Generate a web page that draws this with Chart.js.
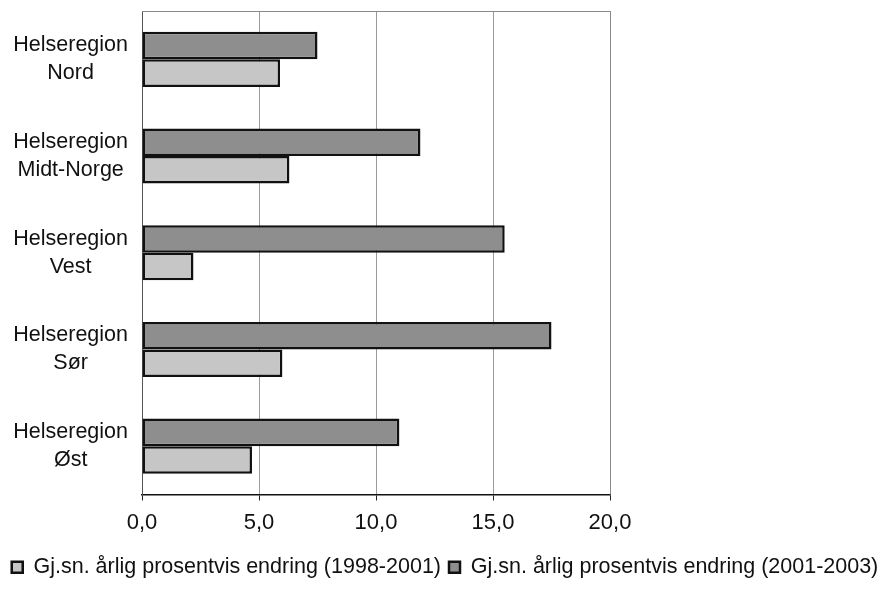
<!DOCTYPE html>
<html>
<head>
<meta charset="utf-8">
<script src="https://cdn.jsdelivr.net/npm/chart.js@4/dist/chart.umd.min.js"></script>
<style>
  html, body { margin: 0; padding: 0; background: #fff; }
  #wrap { width: 890px; height: 602px; }
</style>
</head>
<body>
<div id="wrap"><canvas id="helse-chart"></canvas></div>
<script>
// Regions, top to bottom
const regions = [
  ['Helseregion', 'Nord'],
  ['Helseregion', 'Midt-Norge'],
  ['Helseregion', 'Vest'],
  ['Helseregion', 'Sør'],
  ['Helseregion', 'Øst']
];
const label9801 = 'Gj.sn. årlig prosentvis endring (1998-2001)';
const label0103 = 'Gj.sn. årlig prosentvis endring (2001-2003)';
const change9801 = [5.9, 6.3, 2.2, 6.0, 4.7];
const change0103 = [7.5, 11.9, 15.5, 17.5, 11.0];
const xTicks = [0, 5, 10, 15, 20];

const font = "Arial, 'Liberation Sans', Helvetica, sans-serif";

// frame on top and right of the plot area
const plotFrame = {
  id: 'plotFrame',
  beforeDatasetsDraw(chart) {
    const a = chart.chartArea;
    const c = chart.ctx;
    c.save();
    c.strokeStyle = '#8a8a8a';
    c.lineWidth = 1;
    c.beginPath();
    c.moveTo(a.left, a.top + 0.5);
    c.lineTo(a.right + 0.5, a.top + 0.5);
    c.lineTo(a.right + 0.5, a.bottom);
    c.stroke();
    c.restore();
  }
};

const ctx = document.getElementById('helse-chart').getContext('2d');
const chart = new Chart(ctx, {
  type: 'bar',
  data: {
    labels: regions,
    datasets: [{
      label: label0103,
      data: change0103,
      backgroundColor: '#8e8e8e',
      borderColor: '#111',
      borderWidth: 2.5,
      borderSkipped: false
    }, {
      label: label9801,
      data: change9801,
      backgroundColor: '#c6c6c6',
      borderColor: '#111',
      borderWidth: 2.5,
      borderSkipped: false
    }]
  },
  plugins: [plotFrame],
  options: {
    indexAxis: 'y',
    responsive: true,
    maintainAspectRatio: false,
    animation: false,
    categoryPercentage: 0.57,
    barPercentage: 1.0,
    layout: { padding: { top: 11, left: 0, right: 0, bottom: 14 } },
    scales: {
      x: {
        min: 0,
        max: 20,
        afterBuildTicks(s) { s.ticks = xTicks.map(v => ({ value: v })); },
        afterFit(s) { s.height = 54; s.paddingLeft = 0; s.paddingRight = 0; },
        ticks: {
          color: '#111',
          padding: 9,
          font: { family: font, size: 22 },
          callback: v => v.toFixed(1).replace('.', ',')
        },
        grid: { color: '#9a9a9a', lineWidth: 1, tickColor: '#222', tickLength: 6 },
        border: { color: '#111', width: 1.5 }
      },
      y: {
        afterFit(s) { s.width = 142; s.paddingTop = 0; s.paddingBottom = 0; },
        ticks: {
          color: '#111',
          crossAlign: 'center',
          padding: 6,
          font: { family: font, size: 21.5, lineHeight: 1.3 }
        },
        grid: { display: false },
        border: { color: '#555', width: 1 }
      },
      pad: {
        type: 'linear',
        position: 'right',
        afterFit(s) { s.width = 280; s.paddingTop = 0; s.paddingBottom = 0; },
        ticks: { display: false },
        grid: { display: false },
        border: { display: false }
      }
    },
    plugins: {
      legend: {
        position: 'bottom',
        reverse: true,
        labels: {
          color: '#111',
          boxWidth: 11,
          boxHeight: 11,
          padding: 8,
          font: { family: font, size: 21.5 }
        }
      },
      tooltip: { enabled: false }
    }
  }
});
</script>
</body>
</html>
